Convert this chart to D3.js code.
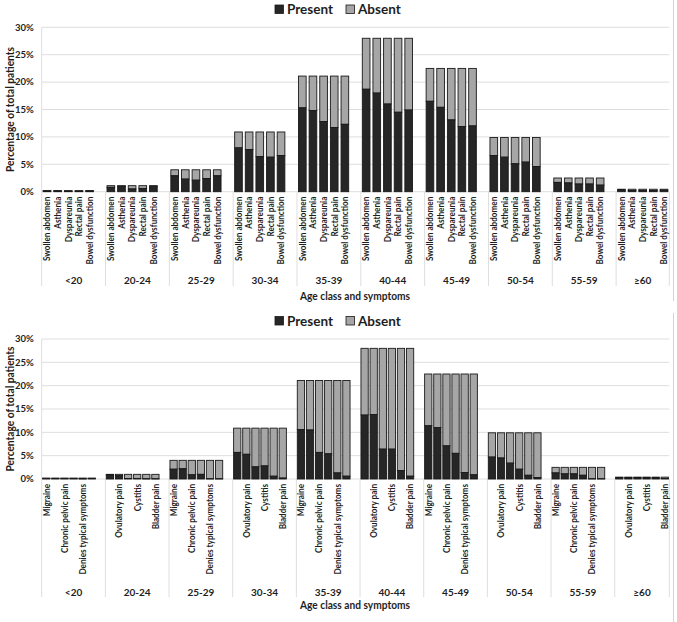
<!DOCTYPE html>
<html><head><meta charset="utf-8">
<script src="https://cdn.jsdelivr.net/npm/d3@7"></script>
<style>
body{margin:0;background:#fff;}
svg text{font-family:Lato,"Open Sans",sans-serif;font-weight:bold;fill:#1e1e1e;}
</style></head>
<body><svg id="c" width="677" height="622"></svg>
<script>
const groups = ["<20","20-24","25-29","30-34","35-39","40-44","45-49","50-54","55-59","≥60"];
const yTicks = [0,5,10,15,20,25,30];
const seriesNames = ["Present","Absent"];

const topSymptoms = ["Swollen abdomen","Asthenia","Dyspareunia","Rectal pain","Bowel dysfunction"];
const topTotals = [0.2,1.1,4.0,10.9,21.1,28.0,22.5,9.9,2.5,0.45];
const topPresent = [
  [0.15,0.15,0.1,0.1,0.15],
  [0.8,1.0,0.5,0.6,1.0],
  [2.9,2.3,2.1,2.4,2.9],
  [8.0,7.7,6.4,6.3,6.6],
  [15.3,14.8,12.8,11.7,12.3],
  [18.7,18.0,16.0,14.5,14.9],
  [16.5,15.4,13.1,11.9,12.0],
  [6.6,6.3,5.1,5.4,4.6],
  [1.7,1.6,1.4,1.4,1.2],
  [0.3,0.2,0.2,0.2,0.25]
];

const bottomSymptoms = ["Migraine","Ovulatory pain","Chronic pelvic pain","Cystitis","Denies typical symptoms","Bladder pain"];
const bottomTotals = [0.2,1.0,4.0,10.9,21.1,28.0,22.5,9.9,2.5,0.4];
const bottomPresent = [
  [0.1,0.1,0.1,0.1,0.05,0.1],
  [0.85,0.7,0.1,0.1,0.05,0.05],
  [2.1,2.2,0.9,1.0,0.05,0.05],
  [5.7,5.3,2.6,2.8,0.6,0.2],
  [10.6,10.5,5.7,5.4,1.3,0.6],
  [13.7,13.8,6.4,6.4,1.8,0.6],
  [11.4,11.0,7.1,5.5,1.4,0.9],
  [4.7,4.5,3.4,2.1,0.8,0.3],
  [1.3,1.1,1.1,0.8,0.05,0.05],
  [0.3,0.2,0.3,0.2,0.2,0.1]
];

const xLabel = "Age class and symptoms";
const yLabel = "Percentage of total patients";

const svg = d3.select("#c");
const colPresent = "#262626", colAbsent = "#a6a6a6", colStroke = "#1a1a1a", colGrid = "#dedede";

function panel(cfg){
  const g = svg.append("g");
  const nSlots = cfg.slotsPerGroup;
  const keys = [];
  groups.forEach((gr,gi)=>{
    const n = gi === groups.length-1 ? cfg.symptoms.length : nSlots;
    for(let j=0;j<n;j++) keys.push(gi+"|"+j);
  });
  const x = d3.scaleBand().domain(keys).range([cfg.left, cfg.right]).padding(0);
  const y = d3.scaleLinear().domain([0,30]).range([cfg.y0, cfg.y30]);
  const bw = x.bandwidth()*cfg.barFrac;

  g.selectAll(".grid").data(yTicks).join("line")
    .attr("x1",cfg.left).attr("x2",cfg.right)
    .attr("y1",d=>y(d)).attr("y2",d=>y(d))
    .attr("stroke",colGrid).attr("stroke-width",1);
  g.append("line").attr("x1",cfg.left).attr("x2",cfg.left).attr("y1",cfg.y30).attr("y2",cfg.y0)
    .attr("stroke",colGrid);
  g.selectAll(".yt").data(yTicks).join("text")
    .attr("x",cfg.left-8).attr("y",d=>y(d)).attr("dy","0.35em")
    .attr("text-anchor","end").attr("font-size",cfg.tickSize).text(d=>d+"%");

  const seps = groups.map((gr,gi)=>x(gi+"|0"));
  seps.push(cfg.right);
  g.selectAll(".sep").data(seps).join("line")
    .attr("x1",d=>d).attr("x2",d=>d).attr("y1",cfg.y0).attr("y2",cfg.sepBottom)
    .attr("stroke",colGrid);

  groups.forEach((gr,gi)=>{
    cfg.symptoms.forEach((s,j)=>{
      const cx = x(gi+"|"+j) + x.bandwidth()/2;
      const p = cfg.present[gi][j], t = cfg.totals[gi];
      g.append("rect").attr("x",cx-bw/2).attr("width",bw)
        .attr("y",y(t)).attr("height",y(p)-y(t))
        .attr("fill",colAbsent).attr("stroke",colStroke).attr("stroke-width",0.9);
      g.append("rect").attr("x",cx-bw/2).attr("width",bw)
        .attr("y",y(p)).attr("height",y(0)-y(p))
        .attr("fill",colPresent).attr("stroke",colStroke).attr("stroke-width",0.9);
      const gIdx = gi*nSlots + j;
      if(cfg.labelStep===1 || gIdx % cfg.labelStep === 0){
        const ly = cfg.y0 + 5;
        g.append("text").attr("dy","0.35em")
          .attr("transform",`translate(${cx},${ly}) rotate(-90) scale(0.86,1)`)
          .attr("text-anchor","end").attr("font-size",cfg.catSize).text(s);
      }
    });
    const gx0 = x(gi+"|0");
    const gx1 = seps[gi+1];
    g.append("text").attr("x",(gx0+gx1)/2).attr("y",cfg.groupY).attr("dy","0.35em")
      .attr("text-anchor","middle").attr("font-size",cfg.groupSize).text(gr);
  });

  g.append("text").attr("x",355).attr("y",cfg.xTitleY).attr("dy","0.35em")
    .attr("text-anchor","middle").attr("font-size",11.5)
    .attr("textLength",110).attr("lengthAdjust","spacingAndGlyphs").text(xLabel);
  g.append("text").attr("transform",`translate(10,${(cfg.y0+cfg.y30)/2}) rotate(-90)`)
    .attr("dy","0.35em").attr("text-anchor","middle").attr("font-size",11.5)
    .attr("x",-62.5).attr("text-anchor","start")
    .attr("textLength",125).attr("lengthAdjust","spacingAndGlyphs").text(yLabel);

  const lg = g.append("g");
  const items = [{n:seriesNames[0],c:colPresent,bx:275,tx:287},{n:seriesNames[1],c:colAbsent,bx:346,tx:358}];
  items.forEach(it=>{
    lg.append("rect").attr("x",it.bx).attr("y",cfg.legendY-4.5).attr("width",8.5).attr("height",8.5)
      .attr("fill",it.c).attr("stroke",colStroke).attr("stroke-width",0.8);
    lg.append("text").attr("x",it.tx).attr("y",cfg.legendY).attr("dy","0.35em")
      .attr("font-size",13.5).text(it.n);
  });

  g.append("line").attr("x1",673.5).attr("x2",673.5).attr("y1",cfg.frameTop).attr("y2",cfg.frameBottom)
    .attr("stroke","#d4d4d4");
}

panel({symptoms:topSymptoms,totals:topTotals,present:topPresent,slotsPerGroup:6,
  left:41.7,right:669.3,y0:191.7,y30:27.3,barFrac:0.72,labelStep:1,
  sepBottom:286,groupY:280,xTitleY:296,legendY:9.5,tickSize:9.5,catSize:9.5,groupSize:10,
  frameTop:0,frameBottom:301});
panel({symptoms:bottomSymptoms,totals:bottomTotals,present:bottomPresent,slotsPerGroup:7,
  left:41.7,right:669.3,y0:479,y30:339,barFrac:0.8,labelStep:2,
  sepBottom:597,groupY:592,xTitleY:605,legendY:321,tickSize:9.5,catSize:9.5,groupSize:10,
  frameTop:313,frameBottom:622});
</script></body></html>
